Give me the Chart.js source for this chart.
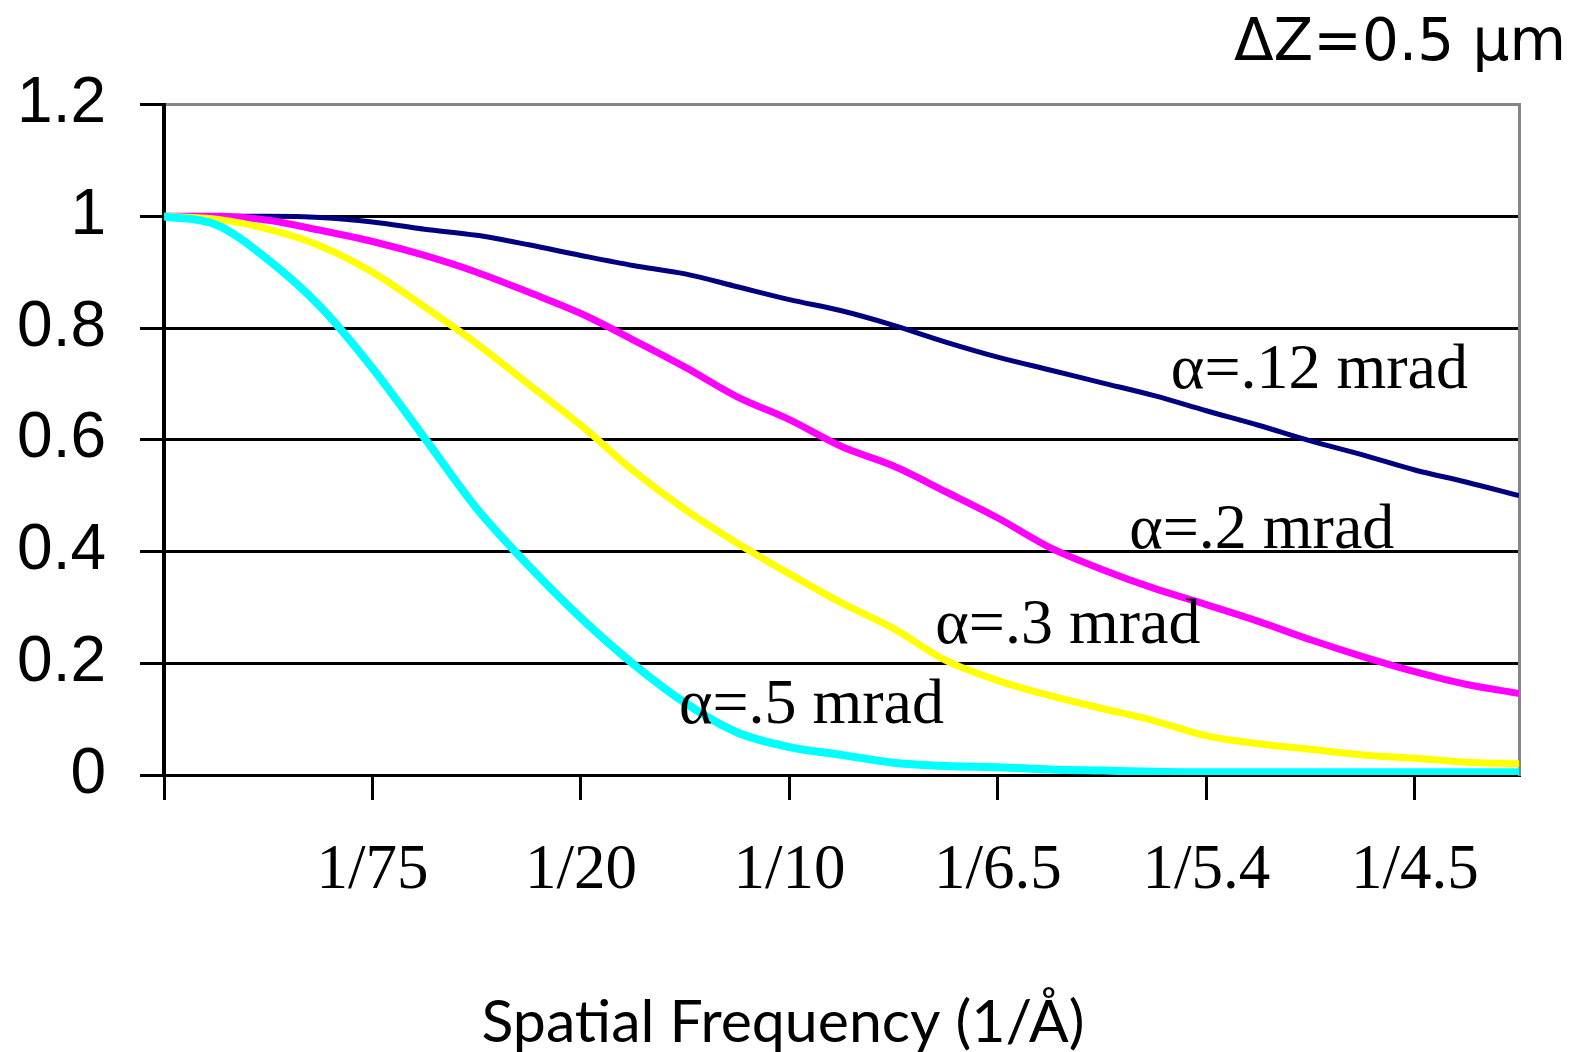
<!DOCTYPE html>
<html>
<head>
<meta charset="utf-8">
<script src="https://cdn.jsdelivr.net/npm/chart.js@4.4.1/dist/chart.umd.min.js"></script>
<style>
  html, body { margin: 0; padding: 0; background: #ffffff; }
  canvas { display: block; }
</style>
</head>
<body>
<canvas id="ctf" width="1576" height="1052"></canvas>
<script>
// Positions along the frequency axis (tick index units, 0 = origin)
const freqPos = [0, 0.25, 0.5, 0.75, 1, 1.25, 1.5, 1.75, 2, 2.25, 2.5, 2.75, 3, 3.25,
                 3.5, 3.75, 4, 4.25, 4.5, 4.75, 5, 5.25, 5.5, 5.75, 6, 6.25, 6.5];

// Labels under the tick marks of the frequency axis
const xTickLabels = ['', '1/75', '1/20', '1/10', '1/6.5', '1/5.4', '1/4.5'];

// Envelope values for each illumination semi-angle
const alpha012 = [1.0, 1.0, 1.0, 0.998, 0.99, 0.977, 0.966, 0.949, 0.93, 0.912, 0.897, 0.874, 0.851, 0.831,
                  0.805, 0.775, 0.748, 0.725, 0.702, 0.679, 0.652, 0.626, 0.598, 0.573, 0.546, 0.524, 0.50];
const alpha02  = [1.0, 1.0, 0.993, 0.975, 0.955, 0.93, 0.90, 0.864, 0.826, 0.779, 0.730, 0.677, 0.636, 0.588,
                  0.553, 0.507, 0.46, 0.407, 0.368, 0.334, 0.305, 0.275, 0.242, 0.212, 0.185, 0.162, 0.146];
const alpha03  = [1.0, 0.995, 0.977, 0.947, 0.90, 0.838, 0.772, 0.699, 0.626, 0.545, 0.475, 0.415, 0.36, 0.308,
                  0.262, 0.205, 0.169, 0.142, 0.119, 0.097, 0.07, 0.056, 0.046, 0.036, 0.03, 0.023, 0.02];
const alpha05  = [1.0, 0.985, 0.922, 0.838, 0.728, 0.603, 0.477, 0.374, 0.281, 0.199, 0.129, 0.076, 0.05, 0.036,
                  0.022, 0.016, 0.014, 0.01, 0.008, 0.006, 0.005, 0.005, 0.005, 0.005, 0.005, 0.005, 0.005];

const seriesNames = ['α=.12 mrad', 'α=.2 mrad', 'α=.3 mrad', 'α=.5 mrad'];

// In-plot curve labels, anchored in data units (left end, baseline)
const curveLabels = [
  { text: seriesNames[0], x: 4.83, y: 0.693 },
  { text: seriesNames[1], x: 4.63, y: 0.406 },
  { text: seriesNames[2], x: 3.70, y: 0.236 },
  { text: seriesNames[3], x: 2.47, y: 0.093 }
];

const toPoints = vals => vals.map((v, i) => ({ x: freqPos[i], y: v }));

const curveLabelPlugin = {
  id: 'curveLabels',
  afterDatasetsDraw(chart) {
    const { ctx, scales } = chart;
    ctx.save();
    ctx.fillStyle = '#000000';
    ctx.font = '64px "Liberation Serif", "Times New Roman", serif';
    ctx.textAlign = 'left';
    ctx.textBaseline = 'alphabetic';
    curveLabels.forEach(l => {
      ctx.fillText(l.text, scales.x.getPixelForValue(l.x), scales.y.getPixelForValue(l.y));
    });
    ctx.restore();
  }
};

const lineStyle = (label, data, color, width, order) => ({
  label, data: toPoints(data), borderColor: color, backgroundColor: color,
  borderWidth: width, pointRadius: 0, fill: false,
  cubicInterpolationMode: 'monotone', order
});

new Chart(document.getElementById('ctf'), {
  type: 'line',
  data: {
    datasets: [
      lineStyle(seriesNames[0], alpha012, '#000080', 5, 4),
      lineStyle(seriesNames[1], alpha02, '#ff00ff', 7, 3),
      lineStyle(seriesNames[2], alpha03, '#ffff00', 7, 2),
      lineStyle(seriesNames[3], alpha05, '#00ffff', 8, 1)
    ]
  },
  options: {
    responsive: false,
    devicePixelRatio: 1,
    animation: false,
    layout: { padding: { left: 0, right: 10, top: 0, bottom: 0 } },
    plugins: {
      legend: { display: false },
      tooltip: { enabled: false },
      title: {
        display: true,
        text: 'ΔZ=0.5 μm',
        align: 'end',
        position: 'top',
        color: '#000000',
        font: { family: '"DejaVu Sans", sans-serif', size: 58, weight: 'normal', lineHeight: 1.2 },
        padding: { top: 10, bottom: 25 }
      },
      subtitle: {
        display: true,
        text: 'Spatial Frequency (1/Å)',
        position: 'bottom',
        align: 'center',
        color: '#000000',
        font: { family: 'Lato, "Open Sans", sans-serif', size: 59, weight: 'normal', lineHeight: 1.0 },
        padding: { top: 0, bottom: 0 }
      }
    },
    scales: {
      x: {
        type: 'linear',
        min: 0,
        max: 6.5,
        afterBuildTicks: scale => { scale.ticks = xTickLabels.map((_, i) => ({ value: i })); },
        afterFit: scale => { scale.height = 218; },
        ticks: {
          autoSkip: false,
          maxRotation: 0,
          minRotation: 0,
          padding: 34,
          color: '#000000',
          font: { family: '"Liberation Serif", "Times New Roman", serif', size: 63 },
          callback: v => xTickLabels[v] ?? ''
        },
        grid: {
          drawOnChartArea: false,
          drawTicks: true,
          tickLength: 25,
          color: '#000000',
          lineWidth: 3
        },
        border: { display: true, color: '#000000', width: 3 }
      },
      y: {
        min: 0,
        max: 1.2,
        afterFit: scale => { scale.width = 164; },
        ticks: {
          stepSize: 0.2,
          padding: 34,
          color: '#000000',
          font: { family: '"Liberation Sans", Arial, sans-serif', size: 64 },
          callback: v => String(Number(v.toFixed(1)))
        },
        grid: {
          drawTicks: true,
          tickLength: 24,
          lineWidth: 3,
          color: ctx => (ctx.tick && Math.abs(ctx.tick.value - 1.2) < 1e-6) ? '#868686' : '#000000',
          tickColor: '#000000'
        },
        border: { display: true, color: '#000000', width: 4 }
      },
      frame: {
        type: 'linear',
        position: 'right',
        min: 0,
        max: 1.2,
        afterFit: scale => { scale.width = 47; },
        ticks: { display: false },
        grid: { drawOnChartArea: false, drawTicks: false },
        border: { display: true, color: '#868686', width: 3 }
      }
    }
  },
  plugins: [curveLabelPlugin]
});
</script>
</body>
</html>
